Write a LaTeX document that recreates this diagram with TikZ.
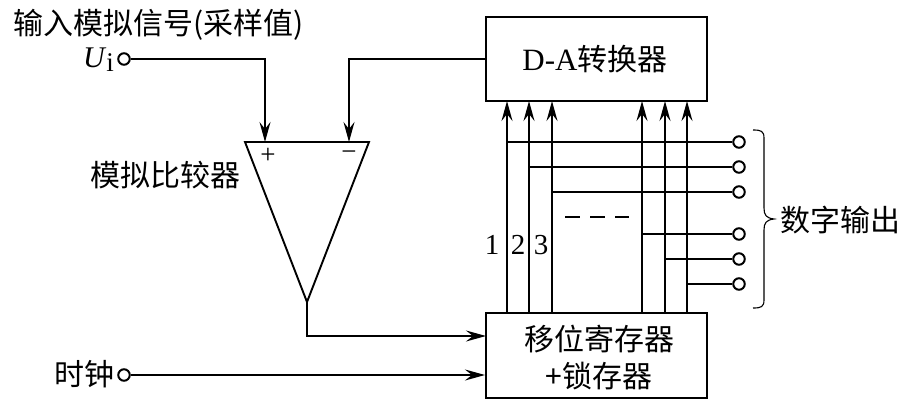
\documentclass[tikz,border=0pt]{standalone}
\usepackage{fontspec}
\setmainfont{Liberation Serif}
\newfontfamily\cjk{Noto Sans CJK SC}
\usetikzlibrary{arrows.meta}
\tikzset{
  x=1pt,y=-1pt,
  wire/.style={line width=1.9pt,line join=miter,black},
  arr/.style={wire,-{Stealth[length=20pt,width=11pt,inset=7pt]}},
  blockbox/.style={draw,line width=2pt,minimum width=221pt,minimum height=84pt,inner sep=0pt},
  term/.style={circle,draw,line width=2pt,minimum size=11.5pt,inner sep=0pt},
  lab/.style={inner sep=0pt,align=center,font=\cjk\fontsize{30}{40}\selectfont},
  num/.style={inner sep=0pt,font=\fontsize{29}{29}\selectfont},
  sign/.style={inner sep=0pt,font=\fontsize{27}{27}\selectfont},
}
\begin{document}
\begin{tikzpicture}
\useasboundingbox (0,0) rectangle (910,420);
\node[blockbox] (da) at (596.5,59) {};
\node[blockbox,minimum height=85pt] (reg) at (596.5,355.5) {};
\node[lab] (dalab) at (595,59) {\fontspec{Liberation Serif}\fontsize{31}{31}\selectfont D-A\cjk\fontsize{30}{30}\selectfont 转换器};
\node[lab] (reglab) at (599,357.5) {移位寄存器\\[-3pt]+锁存器};
\node[term] (ui) at (124,59) {};
\node[term] (clk) at (124,375) {};
\node[lab,anchor=west] (title) at (13,25) {输入模拟信号(采样值)};
\node[inner sep=0pt,font=\fontsize{30}{30}\selectfont,anchor=east] (uilab) at (114,60) {\textit{U}\raisebox{-4pt}{\fontsize{27}{27}\selectfont i}};
\node[lab] (cmp) at (165,175) {模拟比较器};
\node[lab] (clklab) at (84,374) {时钟};
\node[lab] (dout) at (840,220) {数字输出};
\coordinate (tl) at (245,142);
\coordinate (tr) at (369,142);
\coordinate (tb) at (307,302);
\coordinate (inp) at (265,142);
\coordinate (inm) at (349,142);
\draw[wire] (tl) -- (tr) -- (tb) -- cycle;
\node[sign] (plus) at (268,156) {+};
\node[sign] (minus) at (349,156) {−};
\draw[arr] (ui.east) -| (inp);
\draw[arr] (da.west) -| (inm);
\coordinate (rega) at (486,336);
\draw[arr] (tb) |- (rega);
\draw[arr] (clk.east) -- (reg.west |- clk);
\foreach \n/\x/\y in {1/507/142,2/529/167,3/552/192,4/642/234,5/665/259,6/687/284}{
  \coordinate (a\n) at (\x,101);
  \coordinate (b\n) at (\x,313);
  \node[term] (t\n) at (739,\y) {};
  \draw[arr] (b\n) -- (a\n);
  \draw[wire,line width=1.6pt] (b\n |- t\n) -- (t\n.west);
}
\node[num] (n1) at (492,245) {1};
\node[num] (n2) at (518,245) {2};
\node[num] (n3) at (541,245) {3};
\coordinate (d1) at (565,217);
\coordinate (d2) at (629,217);
\draw[line width=1.9pt,dash pattern=on 15pt off 10pt] (d1) -- (d2);
\draw[line width=1.1pt] (753,130) .. controls (761,130) and (764,131) .. (764,138) -- (764,208) .. controls (764,215) and (766,218) .. (774,219) .. controls (766,220) and (764,223) .. (764,230) -- (764,300) .. controls (764,307) and (761,308) .. (753,308);
\end{tikzpicture}
\end{document}
